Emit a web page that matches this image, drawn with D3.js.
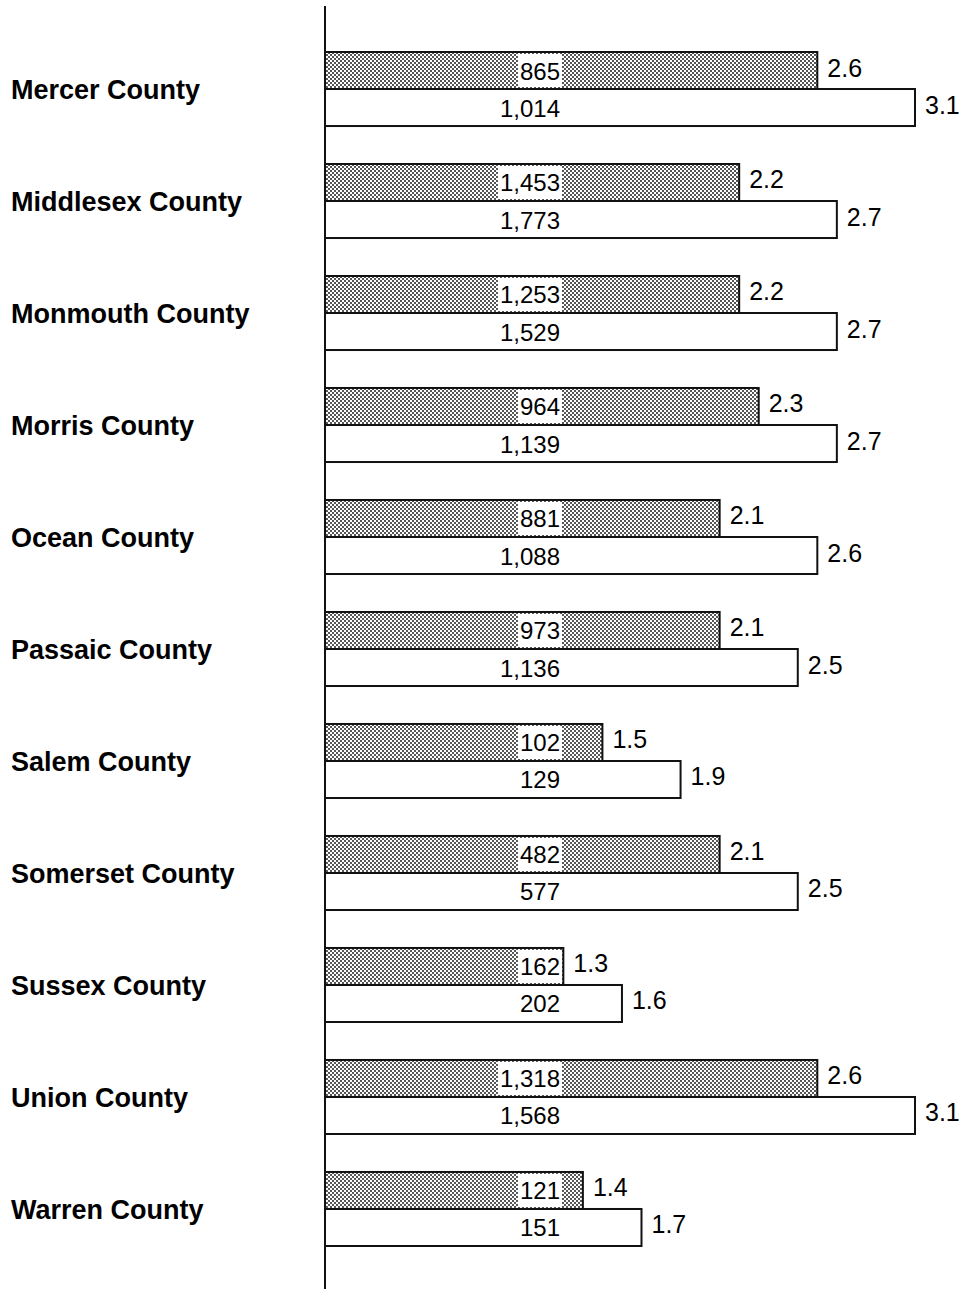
<!DOCTYPE html>
<html>
<head>
<meta charset="utf-8">
<script src="https://cdn.jsdelivr.net/npm/d3@7"></script>
<style>
    body { margin: 0; background: #fff; }
    text { font-family: "Liberation Sans", Arial, Helvetica, sans-serif; fill: #000; }
</style>
</head>
<body>
<div id="testbed"></div>
<script>

//Chart values
var counties = ["Mercer County","Middlesex County","Monmouth County","Morris County","Ocean County",
    "Passaic County","Salem County","Somerset County","Sussex County","Union County","Warren County"];
var rateGray = [2.6,2.2,2.2,2.3,2.1,2.1,1.5,2.1,1.3,2.6,1.4];
var rateWhite = [3.1,2.7,2.7,2.7,2.6,2.5,1.9,2.5,1.6,3.1,1.7];
var countGray = [865,1453,1253,964,881,973,102,482,162,1318,121];
var countWhite = [1014,1773,1529,1139,1088,1136,129,577,202,1568,151];

//System dimensions
var width = 973;
var height = 1289;
var axisX = 325;

var rows = counties.map(function(c,i) {
    return {
        county: c,
        bars: [
            {key: "gray", rate: rateGray[i], count: countGray[i]},
            {key: "white", rate: rateWhite[i], count: countWhite[i]}
        ]
    };
});

//Scales
var x = d3.scaleLinear()
    .domain([0.08,3.1])
    .range([axisX,915]);

var y = d3.scaleBand()
    .domain(counties)
    .range([52,1246])
    .paddingInner(0.339)
    .paddingOuter(0);

var ySub = d3.scaleBand()
    .domain(["gray","white"])
    .range([0,y.bandwidth()]);

var fmt = d3.format(",");

//Main Canvas
var svg = d3.select("#testbed")
    .append("svg")
    .attr("width",width)
    .attr("height",height);

//Stipple pattern for the gray bars
var pat = svg.append("defs")
    .append("pattern")
    .attr("id","stipple")
    .attr("patternUnits","userSpaceOnUse")
    .attr("width",4)
    .attr("height",4);
pat.append("rect").attr("width",4).attr("height",4).attr("fill","#fff");
pat.append("rect").attr("width",2).attr("height",2).attr("fill","#555");
pat.append("rect").attr("x",2).attr("y",2).attr("width",2).attr("height",2).attr("fill","#555");

var groups = svg.selectAll("g.row")
    .data(rows)
    .enter()
    .append("g")
    .attr("class","row")
    .attr("transform",function(d) {
        return "translate(0," + y(d.county) + ")";
    });

//County names
groups.append("text")
    .attr("x",11)
    .attr("y",ySub.bandwidth() + 10)
    .style("font-size","27px")
    .style("font-weight","bold")
    .text(function(d) {
        return d.county;
    });

var bars = groups.selectAll("g.bar")
    .data(function(d) {
        return d.bars;
    })
    .enter()
    .append("g")
    .attr("class","bar")
    .attr("transform",function(d) {
        return "translate(0," + ySub(d.key) + ")";
    });

bars.append("rect")
    .attr("x",axisX)
    .attr("y",0)
    .attr("width",function(d) {
        return x(d.rate) - axisX;
    })
    .attr("height",ySub.bandwidth())
    .attr("fill",function(d) {
        return d.key == "gray" ? "url(#stipple)" : "#fff";
    })
    .attr("stroke","#111")
    .attr("stroke-width",2);

//Counts inside the bars
var counts = bars.append("text")
    .attr("x",560)
    .attr("y",ySub.bandwidth() / 2 + 9)
    .attr("text-anchor","end")
    .style("font-size","24px")
    .text(function(d) {
        return fmt(d.count);
    });

//White box behind the counts on the gray bars (kept inside the bar border)
counts.each(function(d) {
    if (d.key != "gray") return;
    var bb = this.getBBox();
    var right = Math.min(bb.x + bb.width + 2,x(d.rate) - 1);
    d3.select(this.parentNode)
        .insert("rect",function() { return this.parentNode.querySelector("text"); }.bind(this))
        .attr("x",bb.x - 2)
        .attr("y",2)
        .attr("width",right - (bb.x - 2))
        .attr("height",ySub.bandwidth() - 4)
        .attr("fill","#fff");
});

//Rates at the bar ends
bars.append("text")
    .attr("x",function(d) {
        return x(d.rate) + 10;
    })
    .attr("y",ySub.bandwidth() / 2 + 6)
    .style("font-size","25px")
    .text(function(d) {
        return d3.format(".1f")(d.rate);
    });

//Vertical axis line
svg.append("line")
    .attr("x1",axisX)
    .attr("x2",axisX)
    .attr("y1",6)
    .attr("y2",height)
    .attr("stroke","#111")
    .attr("stroke-width",2);

</script>
</body>
</html>
